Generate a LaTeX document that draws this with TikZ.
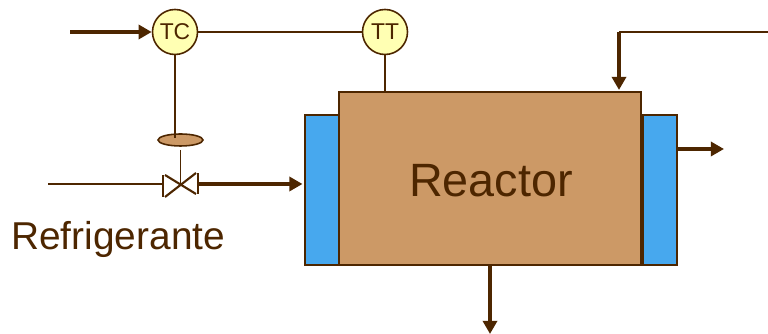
\documentclass[tikz,border=0pt]{standalone}
\usepackage{fontspec}
\setmainfont{Liberation Sans}
\usetikzlibrary{arrows.meta,shapes.geometric}
\definecolor{linebrown}{HTML}{4D2600}
\definecolor{vesseltan}{HTML}{CC9966}
\definecolor{jacketblue}{HTML}{47A8EE}
\definecolor{tagyellow}{HTML}{FFFFB3}
\tikzset{
	signal/.style={draw=linebrown,line width=0.8pt},
	flow/.style={draw=linebrown,line width=1.9pt,-{Triangle[length=7.5pt,width=8pt]}},
	tag/.style={circle,draw=linebrown,fill=tagyellow,line width=0.9pt,minimum size=0.9cm,inner sep=0pt,text=linebrown,font=\fontsize{13}{14}\selectfont},
	vessel/.style={rectangle,draw=linebrown,line width=0.9pt,inner sep=0pt}
}
\begin{document}
\begin{tikzpicture}
	\useasboundingbox (0,0) rectangle (15.36,6.68);
	% vessel and jacket
	\node[vessel,fill=jacketblue,minimum width=0.68cm,minimum height=3cm] (jacketL) at (6.44,2.88) {};
	\node[vessel,fill=jacketblue,minimum width=0.68cm,minimum height=3cm] (jacketR) at (13.2,2.88) {};
	\node[vessel,fill=vesseltan,minimum width=6.04cm,minimum height=3.46cm] (reactor) at (9.8,3.11) {};
	\node[text=linebrown,font=\fontsize{26.6}{30}\selectfont] (reactorName) at (9.82,3.07) {Reactor};
	% instruments
	\node[tag] (TC) at (3.5,6.04) {TC};
	\node[tag] (TT) at (7.7,6.04) {TT};
	\node[ellipse,draw=linebrown,fill=vesseltan,line width=0.9pt,minimum width=0.9cm,minimum height=0.24cm,inner sep=0pt] (actuator) at (3.61,3.88) {};
	\coordinate (valve) at (3.61,2.99);
	\coordinate (valveL) at (3.25,3);
	\coordinate (valveR) at (3.97,3);
	\coordinate (coolIn) at (0.96,3);
	\coordinate (setIn) at (1.4,6.04);
	\coordinate (tcDown) at (3.5,3.92);
	\coordinate (ttDown) at (7.7,4.84);
	\coordinate (feedEnd) at (15.36,6.04);
	\coordinate (feedCorner) at (12.38,6.04);
	\coordinate (feedTip) at (12.38,4.88);
	\coordinate (jacketOut) at (13.56,3.7);
	\coordinate (jacketTip) at (14.48,3.7);
	\coordinate (bottomTip) at (9.8,0);
	\coordinate (jacketIn) at (6.05,3);
	% valve body
	\draw[signal,line width=1.2pt] (3.3,2.74) -- (3.92,3.22);
	\draw[signal,line width=1.2pt] (3.3,3.18) -- (3.92,2.8);
	\draw[signal,line width=1.2pt] (3.26,2.74) -- (3.26,3.18);
	\draw[signal,line width=1.2pt] (3.96,2.8) -- (3.96,3.22);
	% lines
	\draw[flow] (setIn) -- (TC.west);
	\draw[signal] (TC.east) -- (TT.west);
	\draw[signal] (TC.south) -- (tcDown);
	\draw[signal] (actuator.south) ++(0,-0.06) -- (valve);
	\draw[signal] (TT.south) -- (ttDown);
	\draw[signal] (coolIn) -- (valveL);
	\draw[flow] (valveR) -- (jacketIn);
	\draw[signal] (feedEnd) -- (feedCorner);
	\draw[flow] (feedCorner) -- (feedTip);
	\draw[flow] (jacketOut) -- (jacketTip);
	\draw[flow] (reactor.south) -- (bottomTip);
	\node[text=linebrown,font=\fontsize{22.1}{26}\selectfont,anchor=base west,inner sep=0pt] (coolant) at (0.22,1.68) {Refrigerante};
\end{tikzpicture}
\end{document}
